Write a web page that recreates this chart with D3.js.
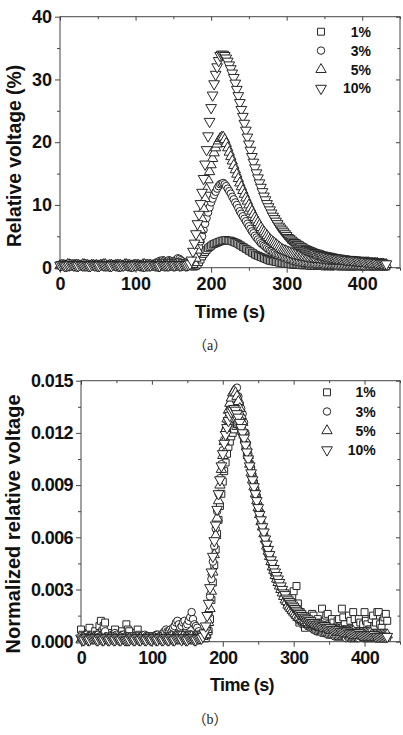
<!DOCTYPE html>
<html>
<head>
<meta charset="utf-8">
<script src="https://cdn.jsdelivr.net/npm/d3@7"></script>
<style>
html, body { margin: 0; padding: 0; background: #fff; }
svg { display: block; }
.axis text { font-family: "Liberation Sans", Arial, sans-serif; font-weight: bold; fill: #111; }
.lbl { font-family: "Liberation Sans", Arial, sans-serif; font-weight: bold; fill: #111; }
.cap { font-family: "Liberation Serif", "Noto Sans CJK SC", serif; fill: #222; }
</style>
</head>
<body>
<svg width="403" height="735"></svg>
<script>
// sampling times (s), shared by all series, 12 per line
const time = [0,2,4,6,8,10,12,14,16,18,20,22,
  24,26,28,30,32,34,36,38,40,42,44,46,
  48,50,52,54,56,58,60,62,64,66,68,70,
  72,74,76,78,80,82,84,86,88,90,92,94,
  96,98,100,102,104,106,108,110,112,114,116,118,
  120,122,124,126,128,130,132,134,136,138,140,142,
  144,146,148,150,152,154,156,158,160,162,164,166,
  168,170,172,174,176,178,180,182,184,186,188,190,
  192,194,196,198,200,202,204,206,208,210,212,214,
  216,218,220,222,224,226,228,230,232,234,236,238,
  240,242,244,246,248,250,252,254,256,258,260,262,
  264,266,268,270,272,274,276,278,280,282,284,286,
  288,290,292,294,296,298,300,302,304,306,308,310,
  312,314,316,318,320,322,324,326,328,330,332,334,
  336,338,340,342,344,346,348,350,352,354,356,358,
  360,362,364,366,368,370,372,374,376,378,380,382,
  384,386,388,390,392,394,396,398,400,402,404,406,
  408,410,412,414,416,418,420,422,424,426,428,430,
  432];

const seriesNames = ["1%", "3%", "5%", "10%"];

// (a) relative voltage (%)
const rel1 = [0.4,0.3,0.3,0.5,0.5,0.3,0.3,0.4,0.4,0.2,0.4,0.3,
  0.3,0.5,0.5,0.4,0.4,0.3,0.3,0.4,0.4,0.5,0.5,0.3,
  0.3,0.4,0.4,0.3,0.4,0.5,0.3,0.3,0.5,0.4,0.4,0.3,
  0.3,0.5,0.4,0.3,0.3,0.4,0.4,0.3,0.5,0.4,0.3,0.4,
  0.4,0.3,0.3,0.4,0.4,0.3,0.4,0.5,0.3,0.4,0.5,0.4,
  0.4,0.3,0.3,0.5,0.4,0.4,0.5,0.3,0.4,0.4,0.3,0.4,
  0.4,0.4,0.5,0.3,0.4,0.4,0.3,0.4,0.5,0.5,0.4,0.3,
  0.3,0.4,0.4,0.3,0.2,0.2,0.3,0.5,0.9,1.3,1.8,2.2,
  2.5,2.8,3.1,3.3,3.5,3.7,3.8,3.9,4.0,4.1,4.2,4.3,
  4.3,4.4,4.4,4.3,4.3,4.3,4.2,4.1,4.0,3.9,3.8,3.6,
  3.5,3.3,3.2,3.0,2.9,2.7,2.6,2.4,2.3,2.1,2.0,1.9,
  1.8,1.7,1.6,1.5,1.4,1.3,1.2,1.1,1.1,1.0,1.0,0.9,
  0.9,0.8,0.8,0.7,0.7,0.6,0.6,0.6,0.6,0.5,0.5,0.5,
  0.5,0.5,0.5,0.4,0.4,0.4,0.4,0.4,0.4,0.3,0.3,0.3,
  0.3,0.3,0.4,0.3,0.3,0.3,0.3,0.2,0.3,0.3,0.3,0.2,
  0.2,0.3,0.3,0.3,0.3,0.2,0.2,0.3,0.3,0.2,0.2,0.2,
  0.3,0.2,0.2,0.2,0.2,0.3,0.3,0.2,0.2,0.2,0.2,0.3,
  0.3,0.2,0.2,0.2,0.2,0.3,0.3,0.2,0.2,0.2,0.2,0.2,
  0.2];
const rel3 = [0.5,0.4,0.4,0.6,0.6,0.5,0.5,0.5,0.5,0.6,0.7,0.5,
  0.5,0.4,0.4,0.5,0.6,0.5,0.5,0.4,0.5,0.6,0.6,0.5,
  0.4,0.5,0.5,0.6,0.6,0.5,0.5,0.4,0.4,0.5,0.5,0.5,
  0.5,0.6,0.6,0.4,0.4,0.5,0.5,0.5,0.5,0.4,0.4,0.5,
  0.5,0.6,0.6,0.5,0.5,0.4,0.4,0.5,0.5,0.6,0.6,0.5,
  0.5,0.6,0.6,0.7,0.8,0.9,1.1,1.0,1.2,1.1,0.9,1.0,
  1.2,1.1,1.0,0.9,1.1,1.3,1.5,1.4,1.2,1.0,0.8,0.7,
  0.7,0.6,0.5,0.5,0.6,0.8,1.4,2.3,3.3,4.2,5.0,6.0,
  7.0,7.9,8.8,9.6,10.4,11.0,11.6,12.1,12.6,13.0,13.3,13.4,
  13.5,13.3,13.0,12.6,12.2,11.8,11.3,10.9,10.4,10.0,9.5,9.0,
  8.6,8.2,7.8,7.4,7.0,6.6,6.2,5.8,5.5,5.1,4.8,4.5,
  4.2,3.9,3.7,3.5,3.3,3.1,2.9,2.7,2.6,2.4,2.3,2.1,
  2.0,1.9,1.8,1.7,1.6,1.5,1.4,1.3,1.3,1.2,1.1,1.0,
  1.0,0.9,0.9,0.8,0.8,0.7,0.7,0.7,0.7,0.6,0.6,0.6,
  0.6,0.5,0.5,0.5,0.5,0.5,0.5,0.4,0.4,0.4,0.4,0.4,
  0.4,0.4,0.4,0.3,0.3,0.3,0.3,0.3,0.3,0.3,0.3,0.3,
  0.3,0.3,0.3,0.3,0.3,0.3,0.3,0.2,0.2,0.2,0.2,0.3,
  0.3,0.2,0.2,0.2,0.2,0.2,0.2,0.2,0.2,0.2,0.2,0.2,
  0.2];
const rel5 = [0.3,0.4,0.4,0.3,0.3,0.5,0.5,0.4,0.4,0.3,0.3,0.4,
  0.4,0.3,0.3,0.5,0.5,0.4,0.4,0.3,0.3,0.4,0.4,0.3,
  0.4,0.3,0.3,0.4,0.4,0.5,0.5,0.3,0.3,0.4,0.4,0.3,
  0.3,0.4,0.4,0.4,0.4,0.3,0.3,0.5,0.5,0.4,0.4,0.3,
  0.3,0.4,0.4,0.4,0.4,0.3,0.3,0.5,0.5,0.4,0.4,0.4,
  0.4,0.3,0.3,0.5,0.5,0.4,0.4,0.5,0.5,0.4,0.4,0.5,
  0.5,0.4,0.4,0.5,0.5,0.6,0.6,0.5,0.5,0.4,0.4,0.5,
  0.5,0.4,0.4,0.5,0.5,0.8,1.5,2.8,4.5,6.1,7.8,9.4,
  11.0,12.5,14.0,15.3,16.4,17.4,18.3,19.1,19.7,20.2,20.6,20.8,
  20.8,20.4,19.8,19.1,18.4,17.7,17.0,16.3,15.6,14.9,14.2,13.5,
  12.9,12.3,11.7,11.1,10.6,10.0,9.5,9.0,8.5,8.0,7.6,7.2,
  6.8,6.4,6.0,5.7,5.4,5.1,4.8,4.5,4.3,4.1,3.9,3.7,
  3.5,3.3,3.1,2.9,2.8,2.7,2.6,2.5,2.4,2.3,2.2,2.1,
  2.0,1.9,1.9,1.8,1.8,1.7,1.7,1.6,1.6,1.5,1.5,1.4,
  1.4,1.4,1.4,1.3,1.3,1.3,1.3,1.2,1.2,1.2,1.2,1.1,
  1.1,1.1,1.1,1.1,1.1,1.0,1.0,1.0,1.0,1.0,1.0,0.9,
  0.9,0.9,0.9,0.9,0.9,0.8,0.8,0.8,0.8,0.8,0.8,0.8,
  0.8,0.7,0.7,0.7,0.7,0.7,0.7,0.6,0.6,0.6,0.6,0.5,
  0.5];
const rel10 = [0.4,0.5,0.5,0.3,0.3,0.4,0.4,0.5,0.5,0.4,0.4,0.3,
  0.3,0.5,0.5,0.4,0.4,0.4,0.4,0.3,0.3,0.5,0.5,0.4,
  0.4,0.3,0.3,0.5,0.5,0.4,0.4,0.4,0.4,0.3,0.3,0.5,
  0.5,0.4,0.4,0.3,0.3,0.4,0.4,0.5,0.5,0.4,0.4,0.3,
  0.3,0.4,0.4,0.5,0.5,0.4,0.4,0.3,0.3,0.4,0.4,0.4,
  0.4,0.5,0.5,0.4,0.4,0.3,0.3,0.5,0.5,0.4,0.4,0.4,
  0.4,0.5,0.5,0.4,0.4,0.5,0.5,0.4,0.4,0.5,0.5,0.4,
  0.4,0.5,0.6,1.2,2.6,3.9,5.4,7.0,8.5,10.2,12.0,14.2,
  16.5,18.8,21.0,23.3,25.5,27.5,29.3,30.8,32.0,33.0,33.8,34.0,
  34.0,33.8,33.4,32.9,32.3,31.7,31.0,30.3,29.4,28.4,27.4,26.3,
  25.2,24.1,23.0,21.9,20.8,19.7,18.7,17.7,16.8,15.9,15.1,14.3,
  13.5,12.8,12.1,11.4,10.8,10.2,9.7,9.2,8.7,8.2,7.8,7.4,
  7.0,6.6,6.3,6.0,5.7,5.4,5.1,4.8,4.6,4.4,4.2,4.0,
  3.9,3.7,3.6,3.4,3.3,3.1,3.0,2.9,2.8,2.7,2.6,2.5,
  2.4,2.3,2.3,2.2,2.1,2.0,2.0,1.9,1.9,1.8,1.8,1.7,
  1.7,1.6,1.6,1.5,1.5,1.5,1.4,1.4,1.4,1.3,1.3,1.3,
  1.3,1.2,1.2,1.2,1.2,1.1,1.1,1.1,1.1,1.0,1.0,1.0,
  1.0,0.9,0.9,0.9,0.9,0.8,0.8,0.8,0.8,0.7,0.7,0.6,
  0.6];

// (b) normalized relative voltage
const norm1 = [0.0007,0.0004,0.0003,0.0001,0.0002,0.0005,0.0008,0.0003,0.0004,0.0002,0.0006,0.0004,
  0.0002,0.0009,0.0012,0.0006,0.0009,0.0011,0.0003,0.0005,0.0005,0.0002,0.0002,0.0004,
  0.0007,0.0003,0.0004,0.0002,0.0002,0.0006,0.0004,0.0003,0.0010,0.0007,0.0006,0.0003,
  0.0003,0.0002,0.0001,0.0005,0.0007,0.0004,0.0002,0.0003,0.0003,0.0002,0.0001,0.0002,
  0.0002,0.0003,0.0003,0.0001,0.0001,0.0002,0.0003,0.0004,0.0002,0.0001,0.0001,0.0003,
  0.0003,0.0002,0.0002,0.0003,0.0004,0.0002,0.0002,0.0003,0.0003,0.0001,0.0002,0.0003,
  0.0003,0.0004,0.0002,0.0003,0.0004,0.0002,0.0002,0.0004,0.0003,0.0002,0.0001,0.0003,
  0.0002,0.0003,0.0003,0.0002,0.0002,0.0004,0.0006,0.0013,0.0024,0.0034,0.0044,0.0053,
  0.0062,0.0070,0.0078,0.0085,0.0092,0.0098,0.0103,0.0108,0.0112,0.0115,0.0118,0.0120,
  0.0122,0.0124,0.0125,0.0125,0.0124,0.0121,0.0119,0.0116,0.0112,0.0109,0.0106,0.0102,
  0.0099,0.0095,0.0091,0.0087,0.0083,0.0078,0.0074,0.0070,0.0066,0.0062,0.0058,0.0054,
  0.0051,0.0049,0.0046,0.0043,0.0040,0.0038,0.0036,0.0034,0.0033,0.0031,0.0030,0.0028,
  0.0026,0.0024,0.0022,0.0021,0.0020,0.0026,0.0029,0.0018,0.0032,0.0022,0.0011,0.0017,
  0.0014,0.0010,0.0008,0.0012,0.0013,0.0009,0.0010,0.0016,0.0015,0.0007,0.0009,0.0013,
  0.0006,0.0011,0.0019,0.0008,0.0012,0.0015,0.0016,0.0010,0.0008,0.0013,0.0011,0.0006,
  0.0007,0.0012,0.0013,0.0009,0.0019,0.0014,0.0010,0.0007,0.0006,0.0015,0.0012,0.0008,
  0.0017,0.0013,0.0009,0.0006,0.0013,0.0011,0.0006,0.0010,0.0017,0.0012,0.0010,0.0007,
  0.0007,0.0013,0.0015,0.0009,0.0011,0.0017,0.0017,0.0010,0.0008,0.0012,0.0014,0.0016,
  0.0012];
const norm3 = [0.0003,0.0002,0.0002,0.0004,0.0004,0.0003,0.0003,0.0002,0.0002,0.0003,0.0003,0.0004,
  0.0004,0.0003,0.0002,0.0002,0.0005,0.0006,0.0003,0.0002,0.0002,0.0003,0.0004,0.0004,
  0.0005,0.0004,0.0003,0.0002,0.0002,0.0003,0.0004,0.0003,0.0003,0.0002,0.0002,0.0003,
  0.0003,0.0002,0.0002,0.0003,0.0003,0.0002,0.0002,0.0003,0.0003,0.0004,0.0003,0.0002,
  0.0003,0.0003,0.0002,0.0002,0.0003,0.0004,0.0004,0.0003,0.0003,0.0004,0.0005,0.0006,
  0.0007,0.0006,0.0006,0.0007,0.0006,0.0008,0.0009,0.0011,0.0012,0.0010,0.0008,0.0009,
  0.0011,0.0012,0.0009,0.0010,0.0012,0.0014,0.0017,0.0013,0.0010,0.0009,0.0008,0.0006,
  0.0004,0.0004,0.0003,0.0004,0.0006,0.0009,0.0016,0.0026,0.0036,0.0046,0.0055,0.0065,
  0.0075,0.0085,0.0094,0.0102,0.0110,0.0116,0.0122,0.0127,0.0132,0.0136,0.0139,0.0141,
  0.0143,0.0145,0.0146,0.0141,0.0137,0.0134,0.0131,0.0126,0.0120,0.0114,0.0108,0.0102,
  0.0097,0.0093,0.0088,0.0084,0.0080,0.0076,0.0072,0.0069,0.0065,0.0061,0.0058,0.0055,
  0.0052,0.0049,0.0046,0.0043,0.0040,0.0038,0.0036,0.0034,0.0032,0.0030,0.0028,0.0026,
  0.0024,0.0022,0.0021,0.0020,0.0018,0.0017,0.0016,0.0015,0.0014,0.0013,0.0012,0.0012,
  0.0011,0.0011,0.0010,0.0010,0.0009,0.0009,0.0008,0.0008,0.0007,0.0007,0.0006,0.0006,
  0.0006,0.0006,0.0005,0.0005,0.0005,0.0005,0.0004,0.0004,0.0004,0.0004,0.0004,0.0003,
  0.0003,0.0003,0.0003,0.0003,0.0003,0.0003,0.0003,0.0002,0.0003,0.0002,0.0002,0.0002,
  0.0002,0.0002,0.0002,0.0002,0.0002,0.0003,0.0003,0.0002,0.0002,0.0002,0.0002,0.0002,
  0.0002,0.0002,0.0002,0.0002,0.0002,0.0002,0.0002,0.0002,0.0002,0.0002,0.0002,0.0002,
  0.0002];
const norm5 = [0.0001,0.0002,0.0002,0.0001,0.0001,0.0002,0.0002,0.0001,0.0001,0.0002,0.0002,0.0001,
  0.0001,0.0002,0.0002,0.0001,0.0001,0.0002,0.0002,0.0001,0.0001,0.0002,0.0002,0.0001,
  0.0002,0.0001,0.0001,0.0002,0.0002,0.0001,0.0001,0.0002,0.0002,0.0002,0.0002,0.0001,
  0.0001,0.0002,0.0002,0.0001,0.0001,0.0002,0.0002,0.0001,0.0001,0.0002,0.0002,0.0002,
  0.0001,0.0002,0.0002,0.0002,0.0002,0.0001,0.0001,0.0002,0.0002,0.0001,0.0001,0.0002,
  0.0002,0.0002,0.0002,0.0003,0.0003,0.0002,0.0002,0.0003,0.0003,0.0003,0.0003,0.0002,
  0.0003,0.0002,0.0002,0.0003,0.0003,0.0003,0.0003,0.0002,0.0002,0.0003,0.0003,0.0003,
  0.0003,0.0003,0.0003,0.0004,0.0004,0.0007,0.0011,0.0019,0.0029,0.0040,0.0050,0.0061,
  0.0071,0.0081,0.0090,0.0099,0.0107,0.0115,0.0122,0.0128,0.0133,0.0137,0.0140,0.0143,
  0.0144,0.0143,0.0141,0.0138,0.0134,0.0130,0.0126,0.0121,0.0116,0.0112,0.0107,0.0102,
  0.0097,0.0093,0.0089,0.0085,0.0081,0.0077,0.0073,0.0069,0.0066,0.0062,0.0059,0.0055,
  0.0052,0.0049,0.0046,0.0043,0.0041,0.0038,0.0036,0.0034,0.0032,0.0030,0.0028,0.0026,
  0.0024,0.0023,0.0021,0.0020,0.0019,0.0018,0.0017,0.0016,0.0015,0.0014,0.0014,0.0013,
  0.0013,0.0012,0.0012,0.0011,0.0011,0.0010,0.0010,0.0010,0.0010,0.0009,0.0009,0.0009,
  0.0009,0.0008,0.0008,0.0008,0.0008,0.0008,0.0008,0.0007,0.0007,0.0007,0.0007,0.0007,
  0.0007,0.0007,0.0007,0.0007,0.0006,0.0006,0.0006,0.0006,0.0006,0.0006,0.0006,0.0006,
  0.0006,0.0005,0.0005,0.0005,0.0005,0.0005,0.0005,0.0005,0.0005,0.0005,0.0005,0.0005,
  0.0005,0.0004,0.0004,0.0004,0.0004,0.0004,0.0004,0.0004,0.0004,0.0004,0.0004,0.0004,
  0.0004];
const norm10 = [0.0002,0.0001,0.0001,0.0002,0.0002,0.0001,0.0001,0.0002,0.0002,0.0002,0.0002,0.0001,
  0.0001,0.0002,0.0002,0.0001,0.0001,0.0002,0.0002,0.0001,0.0001,0.0002,0.0002,0.0001,
  0.0001,0.0002,0.0002,0.0001,0.0001,0.0002,0.0002,0.0001,0.0001,0.0001,0.0001,0.0002,
  0.0002,0.0001,0.0001,0.0002,0.0002,0.0001,0.0001,0.0002,0.0002,0.0001,0.0001,0.0002,
  0.0002,0.0001,0.0001,0.0002,0.0002,0.0001,0.0001,0.0002,0.0002,0.0001,0.0001,0.0002,
  0.0002,0.0001,0.0001,0.0002,0.0002,0.0001,0.0001,0.0002,0.0002,0.0002,0.0002,0.0001,
  0.0002,0.0002,0.0001,0.0001,0.0002,0.0002,0.0002,0.0002,0.0001,0.0001,0.0002,0.0002,
  0.0002,0.0002,0.0003,0.0005,0.0009,0.0015,0.0022,0.0031,0.0040,0.0049,0.0058,0.0067,
  0.0076,0.0085,0.0093,0.0101,0.0108,0.0114,0.0119,0.0123,0.0127,0.0130,0.0132,0.0133,
  0.0134,0.0133,0.0131,0.0129,0.0126,0.0123,0.0120,0.0117,0.0113,0.0109,0.0105,0.0101,
  0.0097,0.0093,0.0089,0.0085,0.0081,0.0077,0.0073,0.0070,0.0066,0.0063,0.0059,0.0056,
  0.0053,0.0050,0.0047,0.0045,0.0042,0.0040,0.0038,0.0036,0.0034,0.0032,0.0030,0.0028,
  0.0027,0.0025,0.0024,0.0023,0.0022,0.0021,0.0020,0.0019,0.0018,0.0017,0.0016,0.0016,
  0.0015,0.0014,0.0014,0.0013,0.0013,0.0012,0.0012,0.0011,0.0011,0.0011,0.0010,0.0010,
  0.0010,0.0009,0.0009,0.0009,0.0009,0.0008,0.0008,0.0008,0.0008,0.0007,0.0007,0.0007,
  0.0007,0.0007,0.0007,0.0006,0.0006,0.0006,0.0006,0.0006,0.0006,0.0005,0.0005,0.0005,
  0.0005,0.0005,0.0005,0.0005,0.0005,0.0004,0.0004,0.0004,0.0004,0.0004,0.0004,0.0004,
  0.0004,0.0004,0.0004,0.0004,0.0003,0.0003,0.0003,0.0003,0.0003,0.0003,0.0003,0.0003,
  0.0003];

const xTicks = [0, 100, 200, 300, 400];
const xMinor = [50, 150, 250, 350, 450];
const relTicks = [0, 10, 20, 30, 40];
const relMinor = [5, 15, 25, 35];
const normTicks = [0, 0.003, 0.006, 0.009, 0.012, 0.015];
const normMinor = [0.0015, 0.0045, 0.0075, 0.0105, 0.0135];

[rel1, rel3, rel5, rel10, norm1, norm3, norm5, norm10].forEach((s, i) => {
  if (s.length !== time.length) throw new Error("series " + i + " has " + s.length + " values, expected " + time.length);
});

const svg = d3.select("svg");
const frameColor = "#444";
const markerColor = "#262626";
const shapes = [d3.symbolSquare, d3.symbolCircle, d3.symbolTriangle, d3.symbolTriangle];
const sizes = [48, 44, 46, 50];

function marker(sel, i) {
  sel.attr("d", d3.symbol(shapes[i], sizes[i]))
     .attr("fill", "#fff")
     .attr("stroke", markerColor)
     .attr("stroke-width", 1);
}

function styleAxis(g) {
  g.select(".domain").remove();
  g.selectAll("line").attr("stroke", frameColor);
}

function panel(p) {
  const g = svg.append("g");
  const x = d3.scaleLinear().domain([0, 450]).range([p.left, p.right]);
  const y = d3.scaleLinear().domain(p.yDomain).range([p.bottom, p.top]);

  // frame
  g.append("rect")
    .attr("x", p.left).attr("y", p.top)
    .attr("width", p.right - p.left).attr("height", p.bottom - p.top)
    .attr("fill", "none").attr("stroke", frameColor).attr("stroke-width", 1);

  // outer ticks, bottom + left
  g.append("g").attr("class", "axis").attr("transform", `translate(0,${p.bottom})`)
    .call(d3.axisBottom(x).tickValues(xTicks).tickSize(5).tickPadding(5).tickFormat(d3.format("d")))
    .call(styleAxis)
    .selectAll("text").style("font-size", "18px").attr("letter-spacing", p.squeeze);
  g.append("g").attr("transform", `translate(0,${p.bottom})`)
    .call(d3.axisBottom(x).tickValues(xMinor).tickSize(3).tickFormat(""))
    .call(styleAxis);
  g.append("g").attr("class", "axis").attr("transform", `translate(${p.left},0)`)
    .call(d3.axisLeft(y).tickValues(p.yTicks).tickSize(5).tickPadding(3).tickFormat(d3.format(p.yFormat)))
    .call(styleAxis)
    .selectAll("text").style("font-size", "18px").attr("letter-spacing", p.squeeze);
  g.append("g").attr("transform", `translate(${p.left},0)`)
    .call(d3.axisLeft(y).tickValues(p.yMinor).tickSize(3).tickFormat(""))
    .call(styleAxis);

  // mirrored inner ticks, top + right
  g.append("g").attr("transform", `translate(0,${p.top})`)
    .call(d3.axisTop(x).tickValues(xTicks).tickSize(-4).tickFormat(""))
    .call(styleAxis);
  g.append("g").attr("transform", `translate(0,${p.top})`)
    .call(d3.axisTop(x).tickValues(xMinor).tickSize(-2.5).tickFormat(""))
    .call(styleAxis);
  g.append("g").attr("transform", `translate(${p.right},0)`)
    .call(d3.axisRight(y).tickValues(p.yTicks).tickSize(-4).tickFormat(""))
    .call(styleAxis);
  g.append("g").attr("transform", `translate(${p.right},0)`)
    .call(d3.axisRight(y).tickValues(p.yMinor).tickSize(-2.5).tickFormat(""))
    .call(styleAxis);

  // data markers, 1% first so 10% sits on top
  p.series.forEach((vals, i) => {
    g.append("g").selectAll("path")
      .data(time.map((t, j) => [t, vals[j]]))
      .join("path")
      .call(marker, i)
      .attr("transform", d => `translate(${x(d[0])},${y(d[1])})` + (i === 3 ? " rotate(180)" : ""));
  });

  // legend
  const lg = g.append("g");
  seriesNames.forEach((name, i) => {
    const ry = p.legendY + i * p.legendStep;
    lg.append("path").call(marker, i)
      .attr("transform", `translate(${p.legendSymX},${ry})` + (i === 3 ? " rotate(180)" : ""));
    lg.append("text").attr("class", "lbl")
      .attr("x", p.legendTextX).attr("y", ry + 5)
      .attr("text-anchor", "end").style("font-size", "14px")
      .text(name);
  });

  // axis titles
  g.append("text").attr("class", "lbl")
    .attr("x", p.xTitleX).attr("y", p.xTitleY)
    .attr("text-anchor", "middle").style("font-size", p.xTitleSize)
    .attr("letter-spacing", p.squeeze)
    .text("Time (s)");
  g.append("text").attr("class", "lbl")
    .attr("transform", `translate(${p.yTitleX},${p.yTitleY}) rotate(-90)`)
    .attr("text-anchor", "middle").style("font-size", p.yTitleSize)
    .text(p.yTitle);

  // caption
  g.append("text").attr("class", "cap")
    .attr("x", 210).attr("y", p.capY)
    .attr("text-anchor", "middle").style("font-size", "14px")
    .text(p.caption);
}

panel({
  left: 60, right: 400, top: 16.7, bottom: 267.7,
  yDomain: [0, 40], yTicks: relTicks, yMinor: relMinor, yFormat: "d",
  series: [rel1, rel3, rel5, rel10],
  legendSymX: 321, legendTextX: 371, legendY: 31.7, legendStep: 18.9,
  xTitleX: 230, xTitleY: 318, xTitleSize: "18.5px",
  yTitle: "Relative voltage (%)", yTitleX: 21, yTitleY: 156, yTitleSize: "19.3px",
  caption: "（a）", capY: 350, squeeze: 0
});

panel({
  left: 81, right: 400, top: 380.7, bottom: 641.7,
  yDomain: [0, 0.015], yTicks: normTicks, yMinor: normMinor, yFormat: ".3f",
  series: [norm1, norm3, norm5, norm10],
  legendSymX: 327, legendTextX: 375.7, legendY: 392.3, legendStep: 19.2,
  xTitleX: 242, xTitleY: 691, xTitleSize: "18px",
  yTitle: "Normalized relative voltage", yTitleX: 19.5, yTitleY: 524, yTitleSize: "20px",
  caption: "（b）", capY: 724, squeeze: -0.6
});
</script>
</body>
</html>
